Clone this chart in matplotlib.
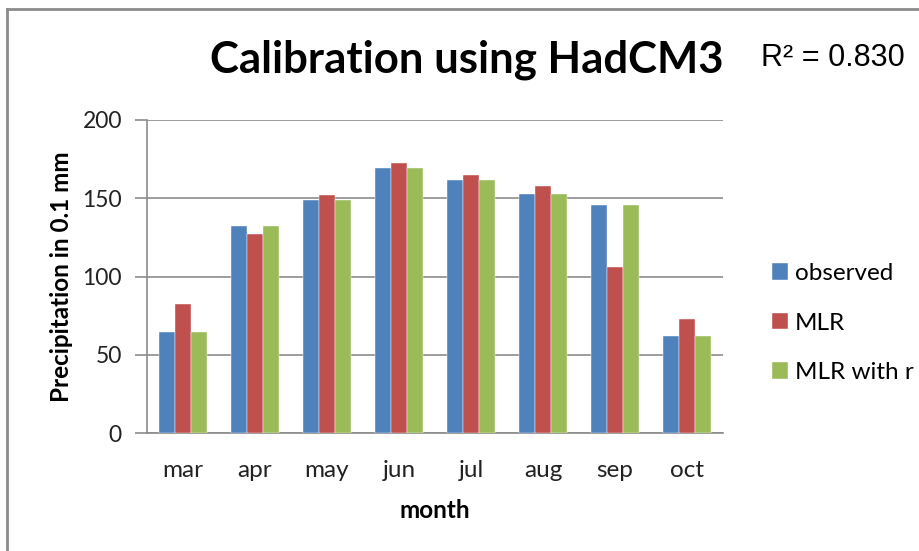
import matplotlib
matplotlib.use("Agg")
import matplotlib.pyplot as plt
from matplotlib.lines import Line2D
import numpy as np

months = ["mar", "apr", "may", "jun", "jul", "aug", "sep", "oct"]
observed = [64.5, 132.4, 148.8, 169.2, 161.8, 152.8, 145.6, 61.9]
mlr = [82.4, 127.5, 152.0, 172.6, 165.1, 157.7, 106.2, 72.8]
mlr_with_r = [64.5, 132.4, 148.8, 169.2, 161.8, 152.8, 145.6, 61.9]
series_names = ["observed", "MLR", "MLR with r"]
colors = ["#4F81BD", "#C0504D", "#9BBB59"]
y_ticks = [0, 50, 100, 150, 200]

plt.rcParams["font.family"] = ["Lato", "DejaVu Sans"]

W, H = 920, 551
fig = plt.figure(figsize=(W / 100, H / 100), dpi=100)
ax = fig.add_axes([147 / W, 1 - 433.3 / H, (723 - 147) / W, (433.3 - 120) / H])

x = np.arange(len(months))
bw = 1 / 4.5
for i, (vals, name, c) in enumerate(zip([observed, mlr, mlr_with_r], series_names, colors)):
    ax.bar(x + (i - 1) * bw, vals, width=bw, color=c, label=name, zorder=3,
           edgecolor="white", linewidth=0.3)

ax.set_xlim(-0.5, len(months) - 0.5)
ax.set_ylim(0, 200)
ax.set_yticks(y_ticks)
ax.set_xticks(x)
ax.set_xticklabels(months)
ax.yaxis.grid(True, color="#8c8c8c", linewidth=1.2, zorder=0)
ax.set_axisbelow(True)
for s in ["top", "right"]:
    ax.spines[s].set_visible(False)
for s in ["left", "bottom"]:
    ax.spines[s].set_color("#8c8c8c")
    ax.spines[s].set_linewidth(1.2)
ax.tick_params(axis="y", length=9, width=1.2, color="#8c8c8c", labelsize=16.5,
               labelcolor="#222222", pad=9)
ax.tick_params(axis="x", length=0, labelsize=17.5, labelcolor="#222222", pad=19.5)

ax.set_ylabel("Precipitation in 0.1 mm", fontsize=17.5, fontweight="bold", labelpad=7)
ax.set_xlabel("month", fontsize=17.5, fontweight="bold", labelpad=13)

fig.text(467 / W, 1 - 60 / H, "Calibration using HadCM3", fontsize=31.5,
         fontweight="bold", ha="center", va="center")
fig.text(833 / W, 1 - 58 / H, "R² = 0.830", fontsize=22, ha="center", va="center",
         family=["Liberation Sans", "DejaVu Sans"])

leg = fig.legend(loc="center left", bbox_to_anchor=(760 / W, 1 - 323 / H),
                 frameon=False, fontsize=17.5, handlelength=0.65, handleheight=0.65,
                 handletextpad=0.3, labelspacing=1.17, borderpad=0)

# chart frame
fig.add_artist(Line2D([7 / W, 1], [1 - 8.5 / H, 1 - 8.5 / H], color="#8c8c8c", lw=2))
fig.add_artist(Line2D([7 / W, 7 / W], [0, 1 - 8.5 / H], color="#8c8c8c", lw=2))

fig.savefig("out.png", dpi=100)
